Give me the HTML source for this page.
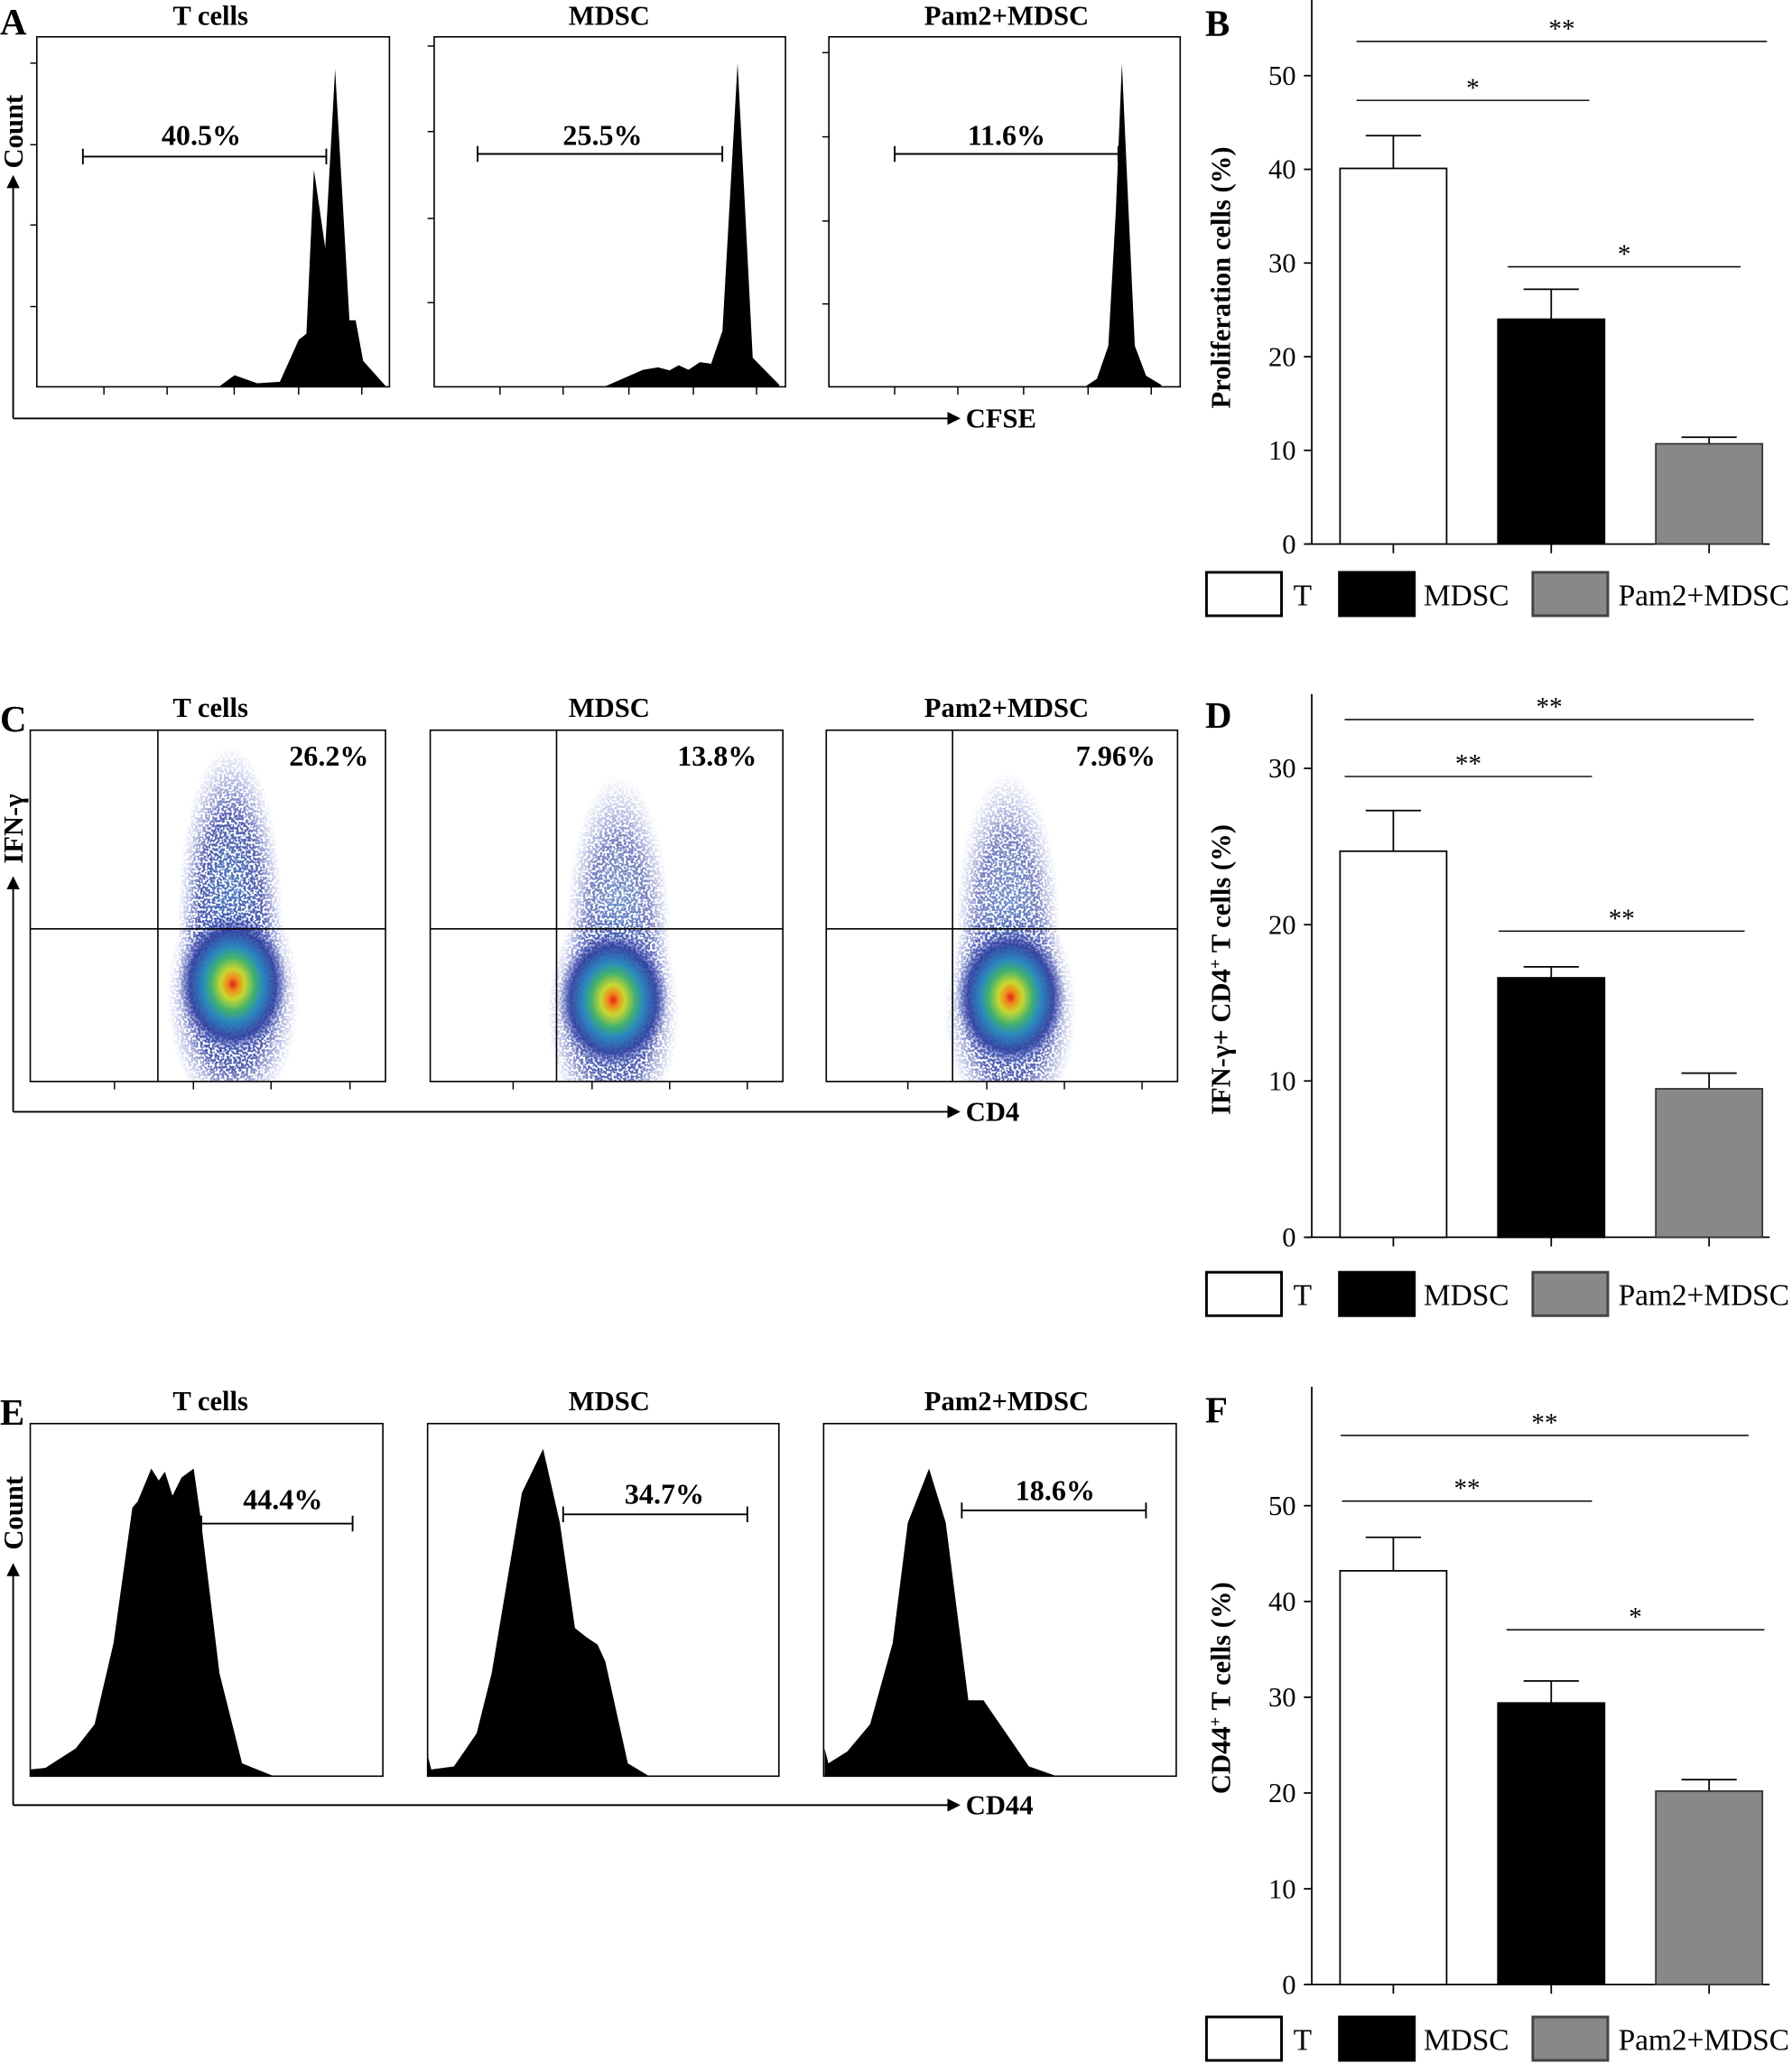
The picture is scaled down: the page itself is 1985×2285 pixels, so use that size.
<!DOCTYPE html>
<html><head><meta charset="utf-8"><style>
html,body{margin:0;padding:0;background:#fff;}
svg{display:block;}
text{font-family:"Liberation Serif",serif;fill:#000;}
</style></head><body>
<svg id="fig" width="1985" height="2285" viewBox="0 0 1362 1568" preserveAspectRatio="none" xmlns="http://www.w3.org/2000/svg">
<defs>
<radialGradient id="dens" cx="0.5" cy="0.5" r="0.5">
<stop offset="0" stop-color="#e0201a"/>
<stop offset="0.1" stop-color="#f08a1a"/>
<stop offset="0.22" stop-color="#c8d830"/>
<stop offset="0.4" stop-color="#40b070"/>
<stop offset="0.55" stop-color="#2a88c0"/>
<stop offset="0.78" stop-color="#3040a0" stop-opacity="0.9"/>
<stop offset="1" stop-color="#5060c0" stop-opacity="0"/>
</radialGradient>
<radialGradient id="dens2" cx="0.5" cy="0.5" r="0.5">
<stop offset="0" stop-color="#3a7ec0" stop-opacity="0.95"/>
<stop offset="0.6" stop-color="#2c3a9c" stop-opacity="0.85"/>
<stop offset="1" stop-color="#6070c8" stop-opacity="0"/>
</radialGradient>
<filter id="speckle" x="0" y="0" width="1" height="1">
<feTurbulence type="fractalNoise" baseFrequency="0.55" numOctaves="1" seed="3" result="n"/>
<feColorMatrix in="n" type="matrix" values="0 0 0 0 0  0 0 0 0 0  0 0 0 0 0  0 0 0 -9 5.2" result="m"/>
<feComposite in="SourceGraphic" in2="m" operator="in"/>
</filter>
<clipPath id="clipC0"><rect x="23" y="555" width="270" height="267"/></clipPath>
<clipPath id="clipC1"><rect x="327" y="555" width="268" height="267"/></clipPath>
<clipPath id="clipC2"><rect x="628" y="555" width="267" height="267"/></clipPath>
<marker id="arr" markerWidth="10" markerHeight="10" refX="8" refY="5" orient="auto" markerUnits="userSpaceOnUse"><path d="M0,0 L10,5 L0,10 z" fill="#000"/></marker>
</defs>
<g id="left"></g>
<g id="right"></g>
</svg>
<script>
// ---- Bar chart data ----
const categories = ["T", "MDSC", "Pam2+MDSC"];
const valuesB = [40.1, 24.0, 10.7];
const errorsB = [3.5, 3.2, 0.7];
const valuesD = [24.7, 16.6, 9.5];
const errorsD = [2.6, 0.7, 1.0];
const valuesF = [43.2, 29.4, 20.2];
const errorsF = [3.5, 2.3, 1.2];
const ticksB = [0, 10, 20, 30, 40, 50];
const ticksD = [0, 10, 20, 30];
const ticksF = [0, 10, 20, 30, 40, 50];
const sigB = [[0, 2, "**"], [0, 1, "*"], [1, 2, "*"]];
const sigD = [[0, 2, "**"], [0, 1, "**"], [1, 2, "**"]];
const sigF = [[0, 2, "**"], [0, 1, "**"], [1, 2, "*"]];
const fills = ["#ffffff", "#000000", "#888888"];

const NS = "http://www.w3.org/2000/svg";
function mk(tag, attrs, parent, txt) {
  const e = document.createElementNS(NS, tag);
  for (const k in attrs) e.setAttribute(k, attrs[k]);
  if (txt !== undefined) e.textContent = txt;
  parent.appendChild(e);
  return e;
}
const right = document.getElementById('right');
const left = document.getElementById('left');

function barChart(o) {
  const g = mk('g', {}, right);
  
  
  const y = v => o.y0 - (v) * o.ppu;
  const xc = i => 1059 + i * 120;
  const bw = 81;
  const L = mk('text', {x: 916, y: o.letterY, 'font-size': 28, 'font-weight': 'bold'}, g, o.id);
  
  
  const ya = mk('line', {x1: 997, y1: o.top, x2: 997, y2: o.y0, stroke: '#000', 'stroke-width': 1.2}, g);
  
  
  const xa = mk('line', {x1: 993, y1: o.y0, x2: 1345, y2: o.y0, stroke: '#000', 'stroke-width': 1.2}, g);
  
  
  o.ticks.forEach(t => {
    const tl = mk('line', {x1: 991, y1: y(t), x2: 997, y2: y(t), stroke: '#000', 'stroke-width': 1.2}, g);
    
    
    const tt = mk('text', {x: 985, y: y(t) + 7, 'font-size': 21, 'text-anchor': 'end'}, g, String(t));
    
    
  });
  categories.forEach((c, i) => {
    const tk = mk('line', {x1: xc(i), y1: o.y0, x2: xc(i), y2: o.y0 + 7, stroke: '#000', 'stroke-width': 1.2}, g);
    
    
    const v = o.values[i], e = o.errors[i];
    const eb = mk('path', {d: `M${xc(i)},${y(v)} V${y(v + e)} M${xc(i) - 21},${y(v + e)} H${xc(i) + 21}`, stroke: '#000', 'stroke-width': 1.2, fill: 'none'}, g);
    
    
    const r = mk('rect', {x: xc(i) - bw / 2, y: y(v), width: bw, height: o.y0 - y(v), fill: fills[i], stroke: i === 2 ? '#333' : '#000', 'stroke-width': 1.2}, g);
    
    
  });
  o.sig.forEach((s, k) => {
    const sl = mk('line', {x1: o.sigX[k][0], y1: o.sigY[k], x2: o.sigX[k][1], y2: o.sigY[k], stroke: '#000', 'stroke-width': 1}, g);
    
    
    const st = mk('text', {x: (o.sigX[k][0] + o.sigX[k][1]) / 2, y: o.sigY[k] - 3, 'font-size': 20, 'text-anchor': 'middle'}, g, s[2]);
    
    
  });
  const yl = mk('text', {x: 0, y: 0, 'font-size': 21, 'font-weight': 'bold', 'text-anchor': 'middle', transform: `translate(935,${o.labelY}) rotate(-90)`}, g);
  yl.innerHTML = o.label;
  
  
  const lg = mk('g', {}, g);
  
  
  const bx = [917, 1018, 1165], tx = [983, 1082, 1230], tl = [null, 65, 130];
  categories.forEach((c, i) => {
    const b = mk('rect', {x: bx[i], y: o.legY, width: 57, height: 33, fill: fills[i], stroke: i === 2 ? '#444' : '#000', 'stroke-width': 2}, lg);
    
    
    const a = {x: tx[i], y: o.legY + 25, 'font-size': 23};
    if (tl[i]) a.textLength = tl[i];
    const t = mk('text', a, lg, c);
    
    
  });
}

barChart({id: 'B', values: valuesB, errors: errorsB, ticks: ticksB, sig: sigB, y0: 413.5, ppu: 7.12, top: 0, letterY: 27,
  sigY: [31.5, 76.3, 202.8], sigX: [[1031, 1343], [1031, 1208], [1146, 1323]], labelY: 211,
  label: 'Proliferation cells (%)', legY: 435});
barChart({id: 'D', values: valuesD, errors: errorsD, ticks: ticksD, sig: sigD, y0: 940.4, ppu: 11.88, top: 527.5, letterY: 553,
  sigY: [546.9, 590.2, 707.7], sigX: [[1022, 1333], [1022, 1210], [1139, 1326]], labelY: 737,
  label: 'IFN-γ+ CD4<tspan baseline-shift="super" font-size="13">+</tspan> T cells (%)', legY: 967});
barChart({id: 'F', values: valuesF, errors: errorsF, ticks: ticksF, sig: sigF, y0: 1508.4, ppu: 7.28, top: 1054, letterY: 1081,
  sigY: [1091, 1140.9, 1238.7], sigX: [[1019, 1329], [1020, 1210], [1145, 1341]], labelY: 1283,
  label: 'CD44<tspan baseline-shift="super" font-size="13">+</tspan> T cells (%)', legY: 1533});

// ---- Left panels ----
const titles = ["T cells", "MDSC", "Pam2+MDSC"];
const titleX = [160, 463, 765];
function rowLabels(letter, ly, ty) {
  const L = mk('text', {x: 0, y: ly, 'font-size': 28, 'font-weight': 'bold'}, left, letter);
  
  
  titles.forEach((t, i) => {
    const e = mk('text', {x: titleX[i], y: ty, 'font-size': 21, 'font-weight': 'bold', 'text-anchor': 'middle'}, left, t);
    
    
  });
}
function axesArrows(yLabel, xLabel, hy, vtop, ytxt) {
  const v = mk('line', {x1: 10, y1: hy, x2: 10, y2: vtop, stroke: '#000', 'stroke-width': 1.3, 'marker-end': 'url(#arr)'}, left);
  
  
  const h = mk('line', {x1: 10, y1: hy, x2: 728, y2: hy, stroke: '#000', 'stroke-width': 1.3, 'marker-end': 'url(#arr)'}, left);
  
  
  const yt = mk('text', {x: 0, y: 0, 'font-size': 21, 'font-weight': 'bold', 'text-anchor': 'middle', transform: `translate(17,${ytxt}) rotate(-90)`}, left, yLabel);
  
  
  const xt = mk('text', {x: 734, y: hy + 7, 'font-size': 21, 'font-weight': 'bold'}, left, xLabel);
  
  
}
function box(x1, y1, x2, y2, name) {
  const r = mk('rect', {x: x1, y: y1, width: x2 - x1, height: y2 - y1, fill: 'none', stroke: '#000', 'stroke-width': 1.1}, left);
  
  
}
function ticksBottom(xs, y) {
  xs.forEach(x => {
    const t = mk('line', {x1: x, y1: y, x2: x, y2: y + 6, stroke: '#000', 'stroke-width': 1}, left);
    
    
  });
}
function ticksLeft(x, ys) {
  ys.forEach(y => {
    const t = mk('line', {x1: x - 5, y1: y, x2: x, y2: y, stroke: '#000', 'stroke-width': 1}, left);
    
    
  });
}
function gate(x1, x2, y, label, lx, ly) {
  const p = mk('path', {d: `M${x1},${y} H${x2} M${x1},${y - 6} V${y + 6} M${x2},${y - 6} V${y + 6}`, stroke: '#000', 'stroke-width': 1.3, fill: 'none'}, left);
  
  
  const t = mk('text', {x: lx, y: ly, 'font-size': 22, 'font-weight': 'bold', 'text-anchor': 'middle'}, left, label);
  
  
}
function hist(pts, sx, oy, sy, base, name) {
  let d = `M${pts[0][0] * sx},${base}`;
  pts.forEach(p => d += ` L${(p[0] * sx).toFixed(1)},${(oy + p[1] * sy).toFixed(1)}`);
  d += ` L${pts[pts.length - 1][0] * sx},${base} Z`;
  const e = mk('path', {d: d, fill: '#000'}, left);
  
  
}

// Row A
rowLabels('A', 26, 19);
axesArrows('Count', 'CFSE', 318, 135, 100);
const histA_T = [[290,1285],[310,1248],[340,1275],[370,1270],[395,1130],[405,1110],[415,565],[430,825],[443,230],[462,1065],[470,1065],[480,1200],[510,1285]];
const histA_M = [[800,1285],[850,1230],[870,1222],[885,1232],[897,1215],[910,1230],[925,1205],[940,1210],[955,1100],[975,210],[995,1190],[1030,1280]];
const histA_P = [[1435,1285],[1450,1260],[1465,1150],[1475,700],[1483,210],[1490,600],[1500,1150],[1515,1250],[1535,1280]];
[histA_T, histA_M, histA_P].forEach((h, i) => hist(h, 0.575, 0, 0.2285, 294, 'histogram-cfse-' + i));
box(28, 28, 296, 294, 'cfse-plot-t-cells');
box(330, 28, 597, 294, 'cfse-plot-mdsc');
box(630, 28, 897, 294, 'cfse-plot-pam2-mdsc');
ticksBottom([79, 127, 178, 227, 275], 294);
ticksBottom([380, 428, 478, 527, 575], 294);
ticksBottom([680, 728, 778, 827, 875], 294);
ticksLeft(28, [48, 110, 171, 233]);
ticksLeft(330, [35, 100, 166, 230]);
ticksLeft(630, [40, 104, 168, 231]);
gate(63, 248, 119, '40.5%', 153, 110);
gate(363, 549, 117, '25.5%', 458, 110);
gate(680, 850, 117, '11.6%', 765, 110);

// Row C (density plots)
rowLabels('C', 556, 545);
axesArrows('IFN-γ', 'CD4', 845, 668, 630);
const dotCenters = [[177, 748, 175, 700, 115, 0.95], [466, 760, 470, 712, 105, 0.75], [768, 758, 766, 710, 105, 0.75]];
dotCenters.forEach((c, i) => {
  const g = mk('g', {'clip-path': `url(#clipC${i})`}, left);
  
  
  const sp = mk('g', {filter: 'url(#speckle)'}, g);
  mk('ellipse', {cx: c[2], cy: c[3], rx: 40, ry: c[4] + 18, fill: 'url(#dens2)', opacity: c[5]}, sp);
  mk('ellipse', {cx: c[0], cy: c[1] + 10, rx: 50, ry: 90, fill: 'url(#dens2)', opacity: 0.9}, sp);
  mk('ellipse', {cx: c[0], cy: c[1], rx: 42, ry: 52, fill: 'url(#dens)'}, g);
});
[[23, 293, 120], [327, 595, 423], [628, 895, 724]].forEach((b, i) => {
  box(b[0], 555, b[1], 822, 'dot-plot-' + i);
  const q = mk('path', {d: `M${b[2]},555 V822 M${b[0]},706 H${b[1]}`, stroke: '#000', 'stroke-width': 1.1}, left);
  
  
});
ticksBottom([87, 147, 206, 266], 822);
ticksBottom([390, 450, 509, 568], 822);
ticksBottom([690, 750, 809, 868], 822);
[['26.2%', 250], ['13.8%', 545], ['7.96%', 848]].forEach(p => {
  const t = mk('text', {x: p[1], y: 582, 'font-size': 22, 'font-weight': 'bold', 'text-anchor': 'middle'}, left, p[0]);
  
  
});

// Row E
rowLabels('E', 1083, 1072);
axesArrows('Count', 'CD44', 1372, 1190, 1150);
const histE_T = [[40,1320],[60,1315],[100,1250],[125,1170],[150,900],[175,450],[182,430],[200,320],[210,360],[218,330],[228,410],[240,350],[256,320],[265,480],[290,1000],[320,1300],[360,1340]];
const histE_M = [[565,1270],[570,1320],[600,1310],[630,1200],[650,1000],[690,400],[718,255],[740,500],[760,850],[775,880],[790,905],[800,960],[830,1300],[860,1345]];
const histE_P = [[1090,1250],[1095,1300],[1120,1260],[1150,1170],[1180,900],[1200,500],[1228,320],[1250,500],[1280,1090],[1300,1090],[1330,1200],[1360,1310],[1400,1345]];
[histE_T, histE_M, histE_P].forEach((h, i) => hist(h, 0.575, 1043, 0.2287, 1350, 'histogram-cd44-' + i));
box(23, 1082, 291, 1350, 'cd44-plot-t-cells');
box(325, 1082, 592, 1350, 'cd44-plot-mdsc');
box(626, 1082, 894, 1350, 'cd44-plot-pam2-mdsc');
gate(153, 268, 1158, '44.4%', 215, 1147);
gate(428, 568, 1151, '34.7%', 505, 1143);
gate(731, 871, 1148, '18.6%', 802, 1140);
</script>
</body></html>
